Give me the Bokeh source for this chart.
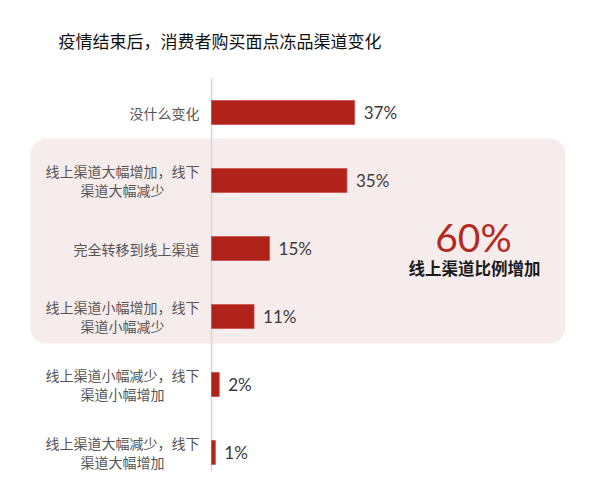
from bokeh.plotting import figure
from bokeh.models import Range1d, BoxAnnotation, Label
from bokeh.core.properties import value
from bokeh.embed import file_html
from bokeh.resources import INLINE

title = "疫情结束后，消费者购买面点冻品渠道变化"
categories = [
    "没什么变化",
    "线上渠道大幅增加，线下\n渠道大幅减少",
    "完全转移到线上渠道",
    "线上渠道小幅增加，线下\n渠道小幅减少",
    "线上渠道小幅减少，线下\n渠道小幅增加",
    "线上渠道大幅减少，线下\n渠道大幅增加",
]
values = [37, 35, 15, 11, 2, 1]
highlight_value = "60%"
highlight_text = "线上渠道比例增加"

CJK = "Noto Sans CJK SC"
NUM = "Lato"
BAR = "#b0231b"

W, H = 584, 471
px_per_pct = 3.87
x0_img = 211
row_px = 68.0
y0_img = 112

x_start = (0 - x0_img) / px_per_pct
x_end = (W - x0_img) / px_per_pct
y_top = (0 - y0_img) / row_px
y_bot = (H - y0_img) / row_px

p = figure(width=W, height=H, output_backend="svg", toolbar_location=None,
           x_range=Range1d(x_start, x_end), y_range=Range1d(y_bot, y_top),
           min_border=0, min_border_left=0, min_border_right=0,
           min_border_top=0, min_border_bottom=0)
p.axis.visible = False
p.grid.visible = False
p.outline_line_color = None
p.background_fill_color = "white"

def px2x(img_x):
    return (img_x - x0_img) / px_per_pct

def px2y(img_y):
    return (img_y - y0_img) / row_px

# highlight box
box = BoxAnnotation(left=px2x(30), right=px2x(565), top=px2y(138), bottom=px2y(343),
                    fill_color="#f7ecec", fill_alpha=1.0, line_color=None,
                    border_radius=16, level="underlay")
p.add_layout(box)

ys = list(range(len(categories)))

# axis line
p.segment(x0=[0], y0=[px2y(78)], x1=[0], y1=[y_bot], line_color="#d6d6d6", line_width=1.5)

# bars
p.hbar(y=ys, left=0, right=values, height=24 / row_px, fill_color=BAR,
       line_color="#c9524c", line_width=0.8)

# value labels
p.text(x=values, y=ys, text=[f"{v}%" for v in values], x_offset=9,
       text_align="left", text_baseline="middle", text_font=value(NUM),
       text_font_size="17px", text_color="#3a3a3a")

# category labels
fs = 14
for i, cat in enumerate(categories):
    lines = cat.split("\n")
    if len(lines) == 1:
        p.text(x=[0], y=[i], text=[lines[0]], x_offset=-12, text_align="right",
               text_baseline="middle", text_font=value(CJK), text_font_size=f"{fs}px",
               text_color="#555555")
    else:
        cx = -12 - len(lines[0]) * fs / 2
        offs = [-10, 9]
        for ln, off in zip(lines, offs):
            p.text(x=[0], y=[i], text=[ln], x_offset=cx, y_offset=off, text_align="center",
                   text_baseline="middle", text_font=value(CJK), text_font_size=f"{fs}px",
                   text_color="#555555")

# highlight text
p.add_layout(Label(x=px2x(473), y=px2y(236), text=highlight_value, text_align="center",
                   text_baseline="middle", text_font=NUM, text_font_size="39px",
                   text_color="#b52a20"))
p.add_layout(Label(x=px2x(474), y=px2y(267), text=highlight_text, text_align="center",
                   text_baseline="middle", text_font=CJK, text_font_size="16.5px",
                   text_color="#1a1a1a", text_font_style="bold"))

# title
p.add_layout(Label(x=px2x(58), y=px2y(40), text=title, text_align="left",
                   text_baseline="middle", text_font=CJK, text_font_size="17px",
                   text_color="#111111"))

open("out.html", "w").write(file_html(p, INLINE))
